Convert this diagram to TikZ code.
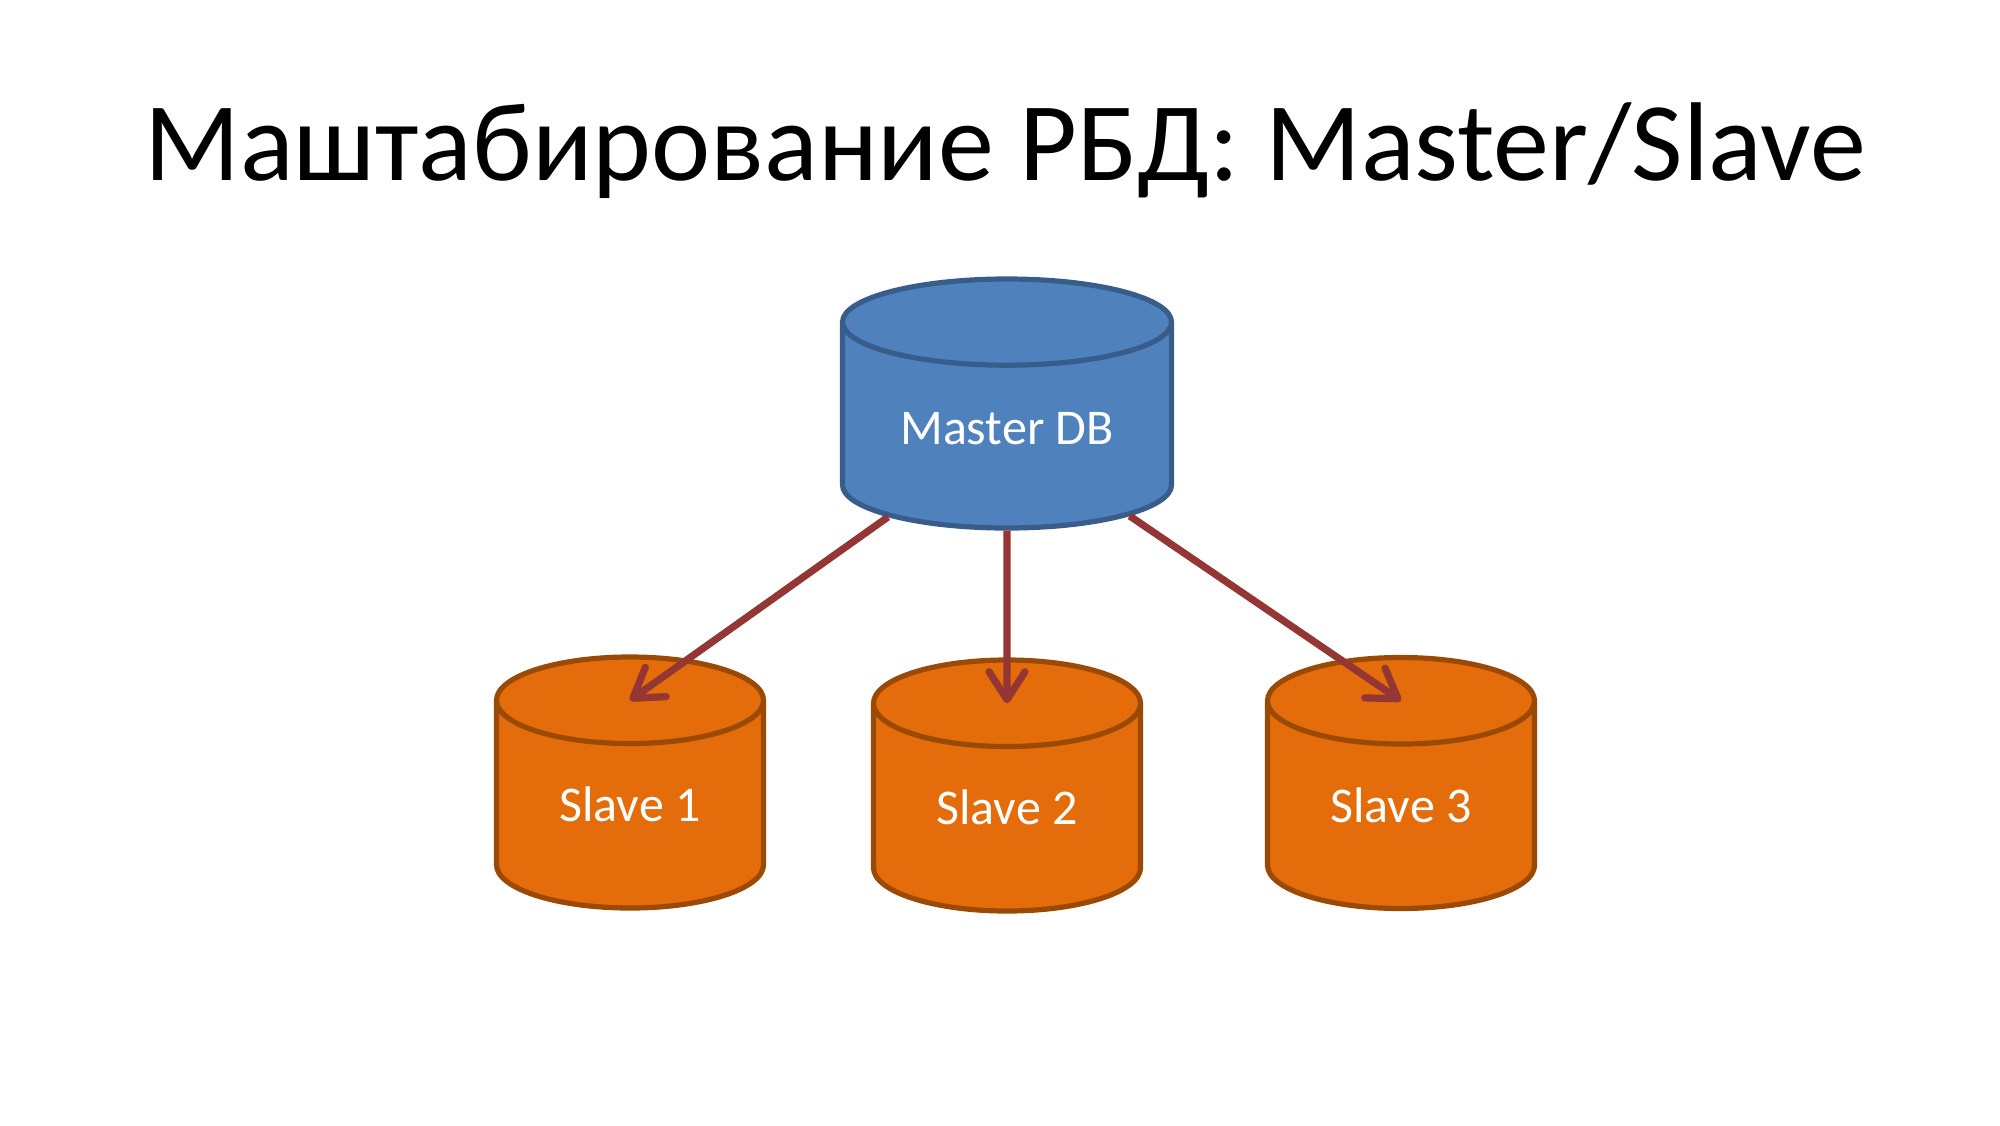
\documentclass[tikz,border=0pt]{standalone}
\usepackage{fontspec}
\setmainfont{Carlito}
\usetikzlibrary{shapes.geometric,arrows.meta,calc}
\definecolor{masterblue}{HTML}{4F81BD}
\definecolor{masterline}{HTML}{385D8A}
\definecolor{slaveorange}{HTML}{E46C0A}
\definecolor{slaveline}{HTML}{9B4A06}
\definecolor{arrowred}{HTML}{943634}

\begin{document}
\begin{tikzpicture}[x=0.5pt,y=-0.5pt,
  db/.style={cylinder,shape border rotate=90,draw,line width=2.6pt,
    text=white,font=\fontsize{25}{30}\selectfont,anchor=shape center},
  master/.style={db,fill=masterblue,draw=masterline,text depth=4pt,
    minimum height=124.5pt,minimum width=164.5pt,aspect=0.38},
  slave/.style={db,fill=slaveorange,draw=slaveline,text depth=8pt,
    minimum height=125.5pt,minimum width=133.5pt,aspect=0.56},
  repl/.style={draw=arrowred,line width=3.6pt,
    -{Straight Barb[length=14pt,width=18pt,round]}}]
  \useasboundingbox (0,0) rectangle (2000,1125);
  % Rubrik
  \node[anchor=base,font=\fontsize{56}{62}\selectfont] (title) at (1005,180)
    {Маштабирование РБД: Master/Slave};
  % Databaser
  \node[master] (m) at (1007,403.5) {Master DB};
  \node[slave] (s1) at (630,782.5) {Slave 1};
  \node[slave] (s2) at (1007,785.5) {Slave 2};
  \node[slave] (s3) at (1401,783) {Slave 3};
  % Pilar
  \foreach \s in {s1,s2,s3}
    \draw[repl] (m) -- ($(\s.before top)!0.5!(\s.after top)$);
\end{tikzpicture}
\end{document}
